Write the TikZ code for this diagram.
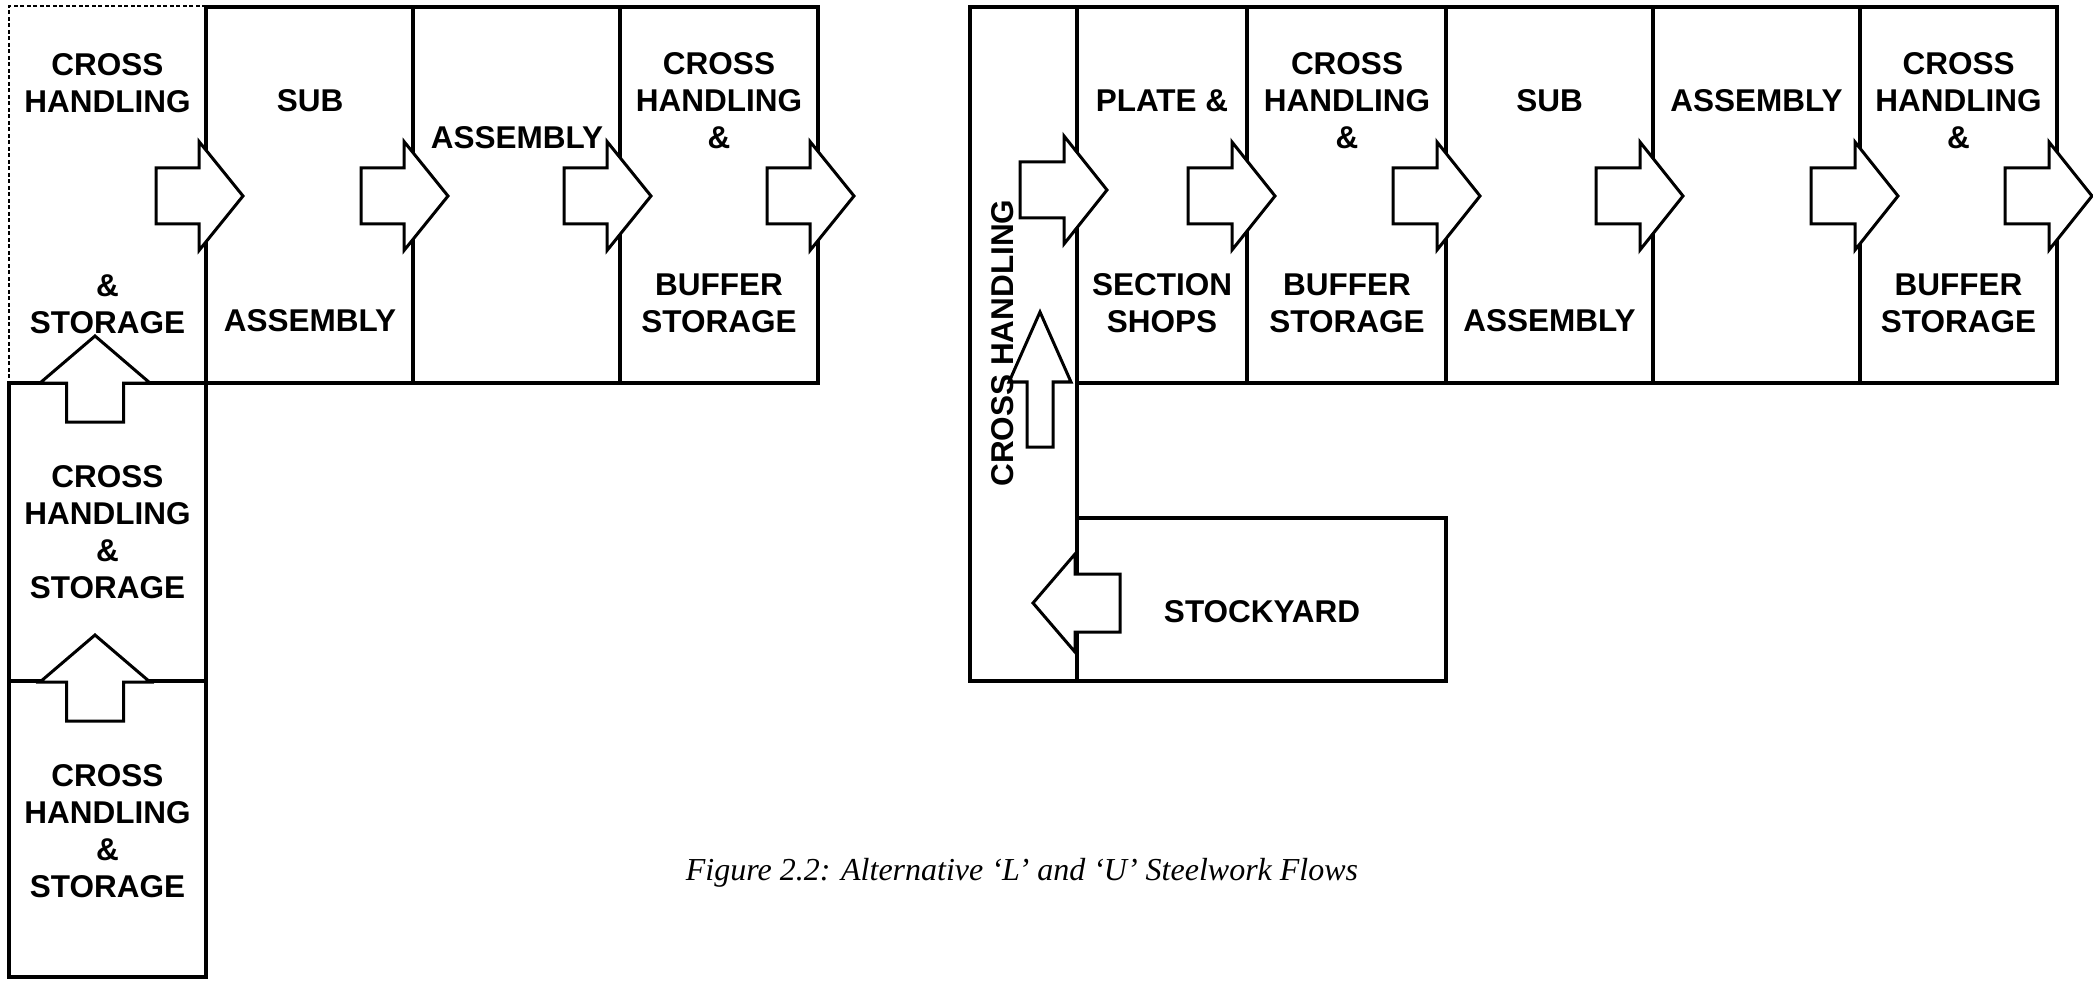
\documentclass[tikz,border=0pt]{standalone}
\usepackage{fontspec}
\setmainfont{Liberation Sans}
\newfontfamily\capfont{Liberation Serif}
\tikzset{
  wall/.style={line width=4pt, line join=miter},
  dashwall/.style={line width=1.8pt, dash pattern=on 4pt off 2.5pt},
  blk/.style={draw, fill=white, line width=3pt, line join=miter, miter limit=10},
  lbl/.style={font=\fontsize{31.5}{37}\selectfont\bfseries, align=center, inner sep=0pt},
  caption/.style={font=\capfont\itshape\fontsize{32}{38}\selectfont, inner sep=0pt},
  pics/barrow/.style args={#1/#2/#3/#4}{code={
    \draw[blk] (0,0) -- (-#2,#3) -- (-#2,#4) -- (-#1,#4) -- (-#1,-#4) -- (-#2,-#4) -- (-#2,-#3) -- cycle;
  }}
}
\begin{document}
\begin{tikzpicture}[x=1pt,y=-1pt]
\useasboundingbox (0,0) rectangle (2093,981);
% ---------- L layout ----------
\draw[dashwall] (206,6) -- (9,6) -- (9,383);
\draw[wall] (206,7) rectangle (818,383);
\draw[wall] (413,7) -- (413,383) (620,7) -- (620,383);
\draw[wall] (9,383) rectangle (206,977);
\draw[wall] (9,681) -- (206,681);
% ---------- U layout ----------
\draw[wall] (970,7) rectangle (1077,681);
\draw[wall] (1077,7) rectangle (2057,383);
\draw[wall] (1247,7) -- (1247,383) (1446,7) -- (1446,383)
            (1653,7) -- (1653,383) (1860,7) -- (1860,383);
\draw[wall] (1077,518) rectangle (1446,681);
% ---------- flow arrows ----------
\pic at (243,196) {barrow=87/44/54.5/28};
\pic at (448,196) {barrow=87/44/54.5/28};
\pic at (651,196) {barrow=87/44/54.5/28};
\pic at (854,196) {barrow=87/44/54.5/28};
\pic[rotate=90] at (95,336) {barrow=86/47/55/28.5};
\pic[rotate=90] at (95,635) {barrow=86/47/55/28.5};
\pic at (1107,190) {barrow=87/43/54/28};
\pic at (1275,196) {barrow=87/43/54/28};
\pic at (1480,196) {barrow=87/43/54/28};
\pic at (1683,196) {barrow=87/43/54/28};
\pic at (1898,196) {barrow=87/43/54/28};
\pic at (2092,196) {barrow=87/43/54/28};
\pic[rotate=90] at (1040,312) {barrow=135/70/31/13};
\pic[rotate=180] at (1033,603) {barrow=87/42/49/29};
% ---------- labels, L layout ----------
\node[lbl] (l1a) at (107.5,83.5) {CROSS\\HANDLING};
\node[lbl] (l1b) at (107.5,304) {\&\\STORAGE};
\node[lbl] (l2a) at (310,101) {SUB};
\node[lbl] (l2b) at (310,321) {ASSEMBLY};
\node[lbl] (l3) at (517,138) {ASSEMBLY};
\node[lbl] (l4a) at (719,101) {CROSS\\HANDLING\\\&};
\node[lbl] (l4b) at (719,303.5) {BUFFER\\STORAGE};
\node[lbl] (l5) at (107.5,532.5) {CROSS\\HANDLING\\\&\\STORAGE};
\node[lbl] (l6) at (107.5,831.5) {CROSS\\HANDLING\\\&\\STORAGE};
% ---------- labels, U layout ----------
\node[lbl, rotate=90] (u0) at (1003,343) {CROSS HANDLING};
\node[lbl] (u1a) at (1162,101) {PLATE \&};
\node[lbl] (u1b) at (1162,303.5) {SECTION\\SHOPS};
\node[lbl] (u2a) at (1347,101) {CROSS\\HANDLING\\\&};
\node[lbl] (u2b) at (1347,303.5) {BUFFER\\STORAGE};
\node[lbl] (u3a) at (1549.5,101) {SUB};
\node[lbl] (u3b) at (1549.5,321) {ASSEMBLY};
\node[lbl] (u4) at (1756.5,101) {ASSEMBLY};
\node[lbl] (u5a) at (1958.5,101) {CROSS\\HANDLING\\\&};
\node[lbl] (u5b) at (1958.5,303.5) {BUFFER\\STORAGE};
\node[lbl] (u6) at (1262,612) {STOCKYARD};
% ---------- caption ----------
\node[caption] (cap) at (1022,873) {Figure 2.2: Alternative ‘L’ and ‘U’ Steelwork Flows};
\end{tikzpicture}
\end{document}
